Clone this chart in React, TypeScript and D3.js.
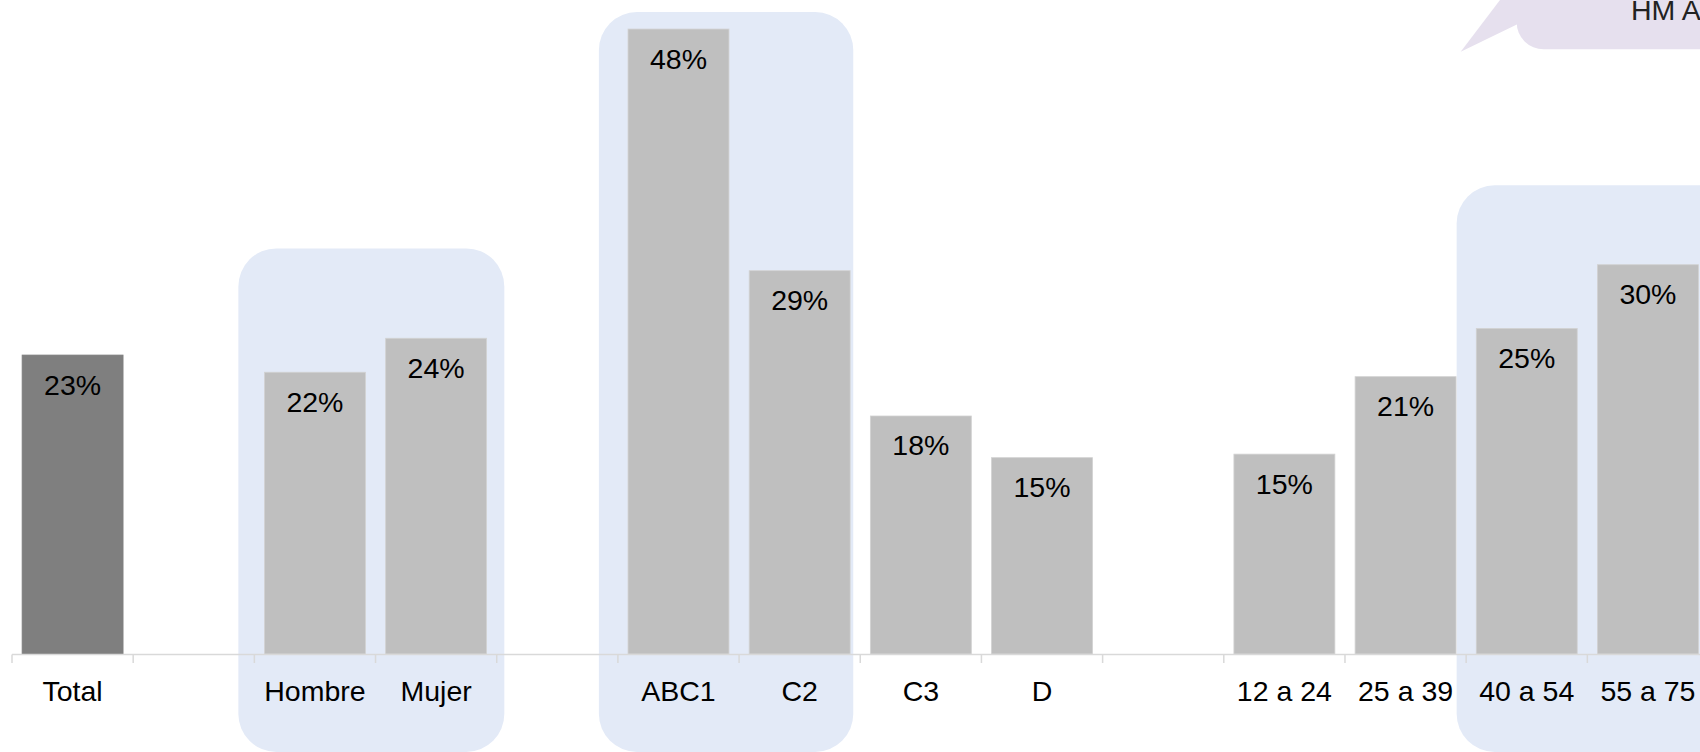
import React from "react";
import * as d3 from "d3";

const categories = ["Total", "", "Hombre", "Mujer", " ", "ABC1", "C2", "C3", "D", "  ", "12 a 24", "25 a 39", "40 a 54", "55 a 75"];
const values: (number | null)[] = [22.96, null, 21.64, 24.25, null, 48.0, 29.44, 18.28, 15.08, null, 15.35, 21.3, 25.0, 29.9];
const isTotal = [true, false, false, false, false, false, false, false, false, false, false, false, false, false];
// highlight groups: first/last slot index and the value where the panel top sits
const groupFirst = [2, 5, 12];
const groupLast = [3, 6, 13];
const groupTopValue = [31.15, 49.3, 36.0];
const calloutText = "HM A";

const W = 1700;
const H = 752;

export default function App() {
  const idx = categories.map((_, i) => i);
  const x = d3
    .scaleBand<number>()
    .domain(idx)
    .range([12, 12 + 121.18 * categories.length])
    .paddingInner(0.167)
    .paddingOuter(0.0835);
  const step = x.step();
  const slotStart = (i: number) => 12 + i * step;
  const y = d3.scaleLinear().domain([0, 50]).range([654, 3]);
  const fmt = (v: number) => `${Math.round(v)}%`;
  const font = "'Liberation Sans', Arial, sans-serif";
  const fs = 28.5;

  const panelPad = [[16, 7.6], [19, -7], [9.5, 0]];

  const ticks = d3.range(categories.length + 1).map(slotStart);

  return (
    <svg
      width={W}
      height={H}
      viewBox={`0 0 ${W} ${H}`}
      style={{ position: "absolute", left: 0, top: 0, display: "block", background: "#fff" }}
    >
      {groupFirst.map((f, g) => {
        const x0 = slotStart(f) - panelPad[g][0];
        const x1 = g === 2 ? W + 60 : slotStart(groupLast[g] + 1) + panelPad[g][1];
        const top = y(groupTopValue[g]);
        return (
          <rect key={`p${g}`} x={x0} y={top} width={x1 - x0} height={H - top} rx={38} ry={38} fill="#e3eaf7" />
        );
      })}

      {/* callout */}
      <g>
        <path d="M1460.7,51.7 L1522,22 L1522,-20 L1515.2,-20 Z" fill="#e6e0ee" />
        <rect x={1516.7} y={-60} width={260} height={109.3} rx={27} ry={27} fill="#e6e0ee" />
        <text x={1631} y={20} fontFamily={font} fontSize={fs} fill="#222">
          {calloutText}
        </text>
      </g>

      {values.map((v, i) =>
        v === null ? null : (
          <rect
            key={`b${i}`}
            x={x(i)!}
            y={y(v)}
            width={x.bandwidth()}
            height={y(0) - y(v)}
            fill={isTotal[i] ? "#7f7f7f" : "#bfbfbf"}
            stroke={isTotal[i] ? "#7f7f7f" : "#d2d2d2"}
            strokeWidth={0.8}
          />
        )
      )}

      {values.map((v, i) =>
        v === null ? null : (
          <text
            key={`l${i}`}
            x={x(i)! + x.bandwidth() / 2}
            y={y(v) + 39.5}
            textAnchor="middle"
            fontFamily={font}
            fontSize={fs}
            fill="#000"
          >
            {fmt(v)}
          </text>
        )
      )}

      <line x1={12} x2={slotStart(categories.length)} y1={654.5} y2={654.5} stroke="#d9d9d9" strokeWidth={1.5} />
      {ticks.map((t, i) => (
        <line key={`t${i}`} x1={t} x2={t} y1={654.5} y2={663} stroke="#d9d9d9" strokeWidth={1.5} />
      ))}

      {categories.map((c, i) =>
        c.trim() === "" ? null : (
          <text
            key={`c${i}`}
            x={x(i)! + x.bandwidth() / 2}
            y={701}
            textAnchor="middle"
            fontFamily={font}
            fontSize={fs}
            fill="#000"
          >
            {c}
          </text>
        )
      )}
    </svg>
  );
}
